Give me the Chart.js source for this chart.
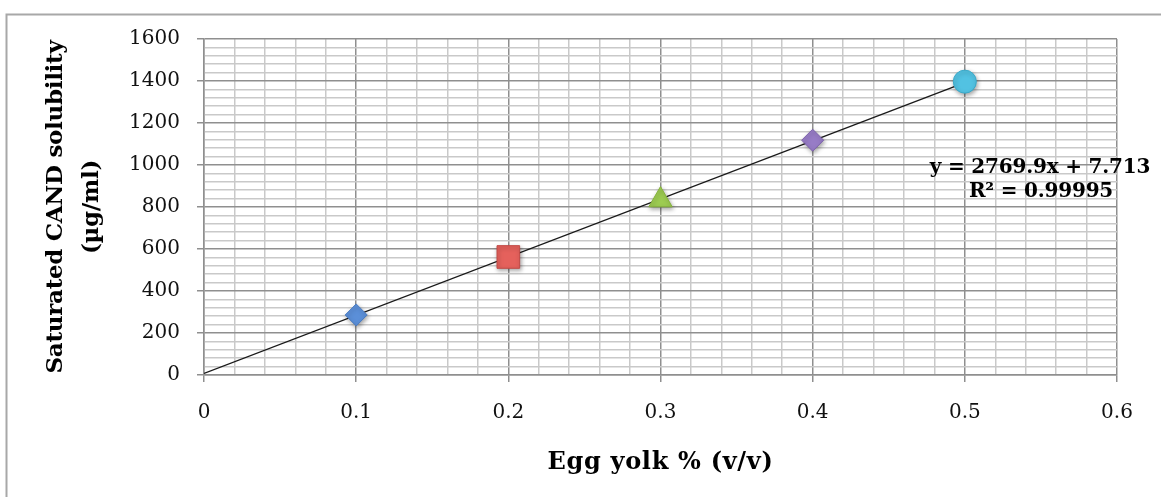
<!DOCTYPE html>
<html><head><meta charset="utf-8">
<script src="https://cdn.jsdelivr.net/npm/chart.js@4/dist/chart.umd.min.js"></script>
<style>html,body{margin:0;padding:0;background:#fff;overflow:hidden}canvas{display:block}</style>
</head><body>
<canvas id="c" width="1161" height="497"></canvas>
<script>
// ---- data ----
const eggYolk = [0.1, 0.2, 0.3, 0.4, 0.5];
const solubility = [286, 562, 833, 1118, 1397];
const trendX = [0, 0.5];
const trendY = [7.7, 1392.7];
const xTickLabels = ['0', '0.1', '0.2', '0.3', '0.4', '0.5', '0.6'];
const yTickLabels = ['0', '200', '400', '600', '800', '1000', '1200', '1400', '1600'];
const equationLines = ['y = 2769.9x + 7.713', 'R\u00B2 = 0.99995'];
const xTitle = 'Egg yolk % (v/v)';
const yTitleLines = ['Saturated CAND solubility', '(\u00B5g/ml)'];

// ---- styles ----
const markerStyles = ['rectRot', 'rect', 'triangle', 'rectRot', 'circle'];
const markerRadii = [11, 16, 13.5, 11, 11.5];
const markerFill = ['#5b8fd8', '#e5615c', '#9dcc52', '#977cc6', '#52c2e2'];
const markerBorder = ['#4a7cc2', '#c24a46', '#86b33d', '#7d62ad', '#3aa9c9'];
const FONT = '"DejaVu Serif", serif';
const MAJOR = '#8f8f8f', MINOR = '#c9c9c9';

const xNum = xTickLabels.map(Number);
const yNum = yTickLabels.map(Number);
const isMajorX = v => xNum.some(n => Math.abs(n - v) < 1e-9);
const isMajorY = v => yNum.some(n => Math.abs(n - v) < 1e-9);

const datasets = [{
  type: 'line',
  label: 'trend',
  data: trendX.map((x, i) => ({x, y: trendY[i]})),
  borderColor: '#1a1a1a',
  borderWidth: 1.4,
  pointRadius: 0,
  fill: false,
  order: 2
}];
eggYolk.forEach((x, i) => {
  datasets.push({
    type: 'scatter',
    label: 'p' + i,
    data: [{x, y: solubility[i]}],
    pointStyle: markerStyles[i],
    pointRadius: markerRadii[i],
    pointHoverRadius: markerRadii[i],
    backgroundColor: markerFill[i],
    borderColor: markerBorder[i],
    borderWidth: 1,
    order: 1
  });
});

const decor = {
  id: 'decor',
  beforeDraw(chart) {
    const ctx = chart.ctx;
    ctx.save();
    ctx.fillStyle = '#fff';
    ctx.fillRect(0, 0, chart.width, chart.height);
    ctx.strokeStyle = '#a8a8a8';
    ctx.lineWidth = 2;
    ctx.beginPath();
    ctx.moveTo(6.5, chart.height);
    ctx.lineTo(6.5, 14.5);
    ctx.lineTo(chart.width, 14.5);
    ctx.stroke();
    ctx.restore();
  },
  beforeDatasetDraw(chart, args) {
    if (args.index > 0) {
      const ctx = chart.ctx;
      ctx.save();
      ctx.shadowColor = 'rgba(0,0,0,0.35)';
      ctx.shadowBlur = 4;
      ctx.shadowOffsetX = 1;
      ctx.shadowOffsetY = 2;
    }
  },
  afterDatasetDraw(chart, args) {
    if (args.index > 0) chart.ctx.restore();
  },
  afterDraw(chart) {
    const ctx = chart.ctx;
    const a = chart.chartArea;
    ctx.save();
    ctx.fillStyle = '#000';
    // equation
    ctx.font = 'bold 20px ' + FONT;
    ctx.textAlign = 'center';
    ctx.textBaseline = 'alphabetic';
    try { ctx.letterSpacing = '-0.2px'; } catch (e) {}
    ctx.fillText(equationLines[0], a.right - 77, 173);
    ctx.fillText(equationLines[1], a.right - 76, 197);
    // x title
    try { ctx.letterSpacing = '0.7px'; } catch (e) {}
    ctx.font = 'bold 24px ' + FONT;
    ctx.fillText(xTitle, (a.left + a.right) / 2, 469);
    // y title
    try { ctx.letterSpacing = '-0.3px'; } catch (e) {}
    ctx.font = 'bold 23px ' + FONT;
    const cy = (a.top + a.bottom) / 2;
    ctx.translate(0, cy);
    ctx.rotate(-Math.PI / 2);
    ctx.fillText(yTitleLines[0], 0, 62);
    ctx.fillText(yTitleLines[1], 0, 98);
    ctx.restore();
  }
};

new Chart(document.getElementById('c'), {
  data: {datasets},
  options: {
    responsive: false,
    animation: false,
    devicePixelRatio: 1,
    layout: {padding: {left: 0, top: 39, right: 44, bottom: 0}},
    plugins: {legend: {display: false}, tooltip: {enabled: false}},
    scales: {
      x: {
        type: 'linear',
        min: 0, max: 0.6,
        afterFit: s => { s.height = 122; },
        border: {color: MAJOR, width: 1.5},
        grid: {
          color: c => isMajorX(c.tick.value) ? MAJOR : MINOR,
          lineWidth: 1.5,
          tickColor: c => isMajorX(c.tick.value) ? MAJOR : 'rgba(0,0,0,0)',
          tickLength: 7
        },
        ticks: {
          stepSize: 0.02,
          autoSkip: false,
          maxRotation: 0, minRotation: 0,
          padding: 19,
          color: '#111',
          font: {family: FONT, size: 20},
          callback: v => { const i = xNum.findIndex(n => Math.abs(n - v) < 1e-9); return i >= 0 ? xTickLabels[i] : ''; }
        }
      },
      y: {
        type: 'linear',
        min: 0, max: 1600,
        afterFit: s => { s.width = 204; },
        border: {color: MAJOR, width: 1.5},
        grid: {
          color: c => isMajorY(c.tick.value) ? MAJOR : MINOR,
          lineWidth: 1.5,
          tickColor: c => isMajorY(c.tick.value) ? MAJOR : 'rgba(0,0,0,0)',
          tickLength: 7
        },
        ticks: {
          stepSize: 40,
          autoSkip: false,
          padding: 17,
          color: '#111',
          font: {family: FONT, size: 20},
          callback: v => { const i = yNum.findIndex(n => Math.abs(n - v) < 1e-9); return i >= 0 ? yTickLabels[i] : ''; }
        }
      }
    }
  },
  plugins: [decor]
});
</script>
</body></html>
